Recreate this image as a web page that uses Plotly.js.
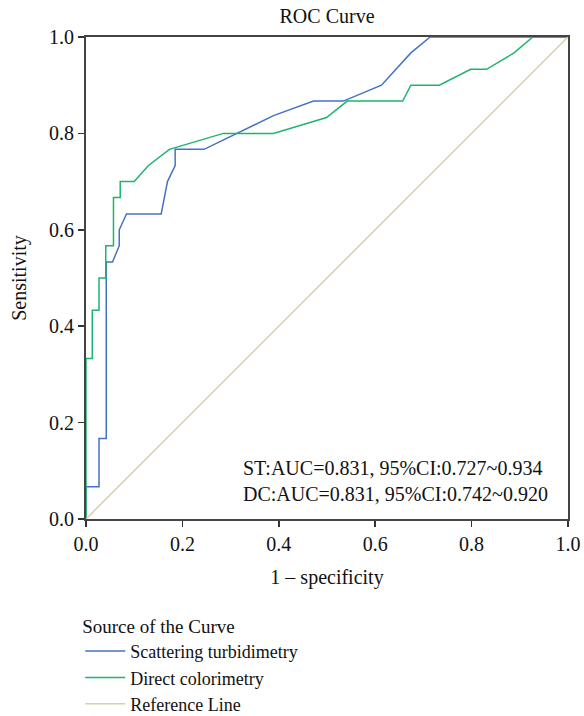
<!DOCTYPE html>
<html>
<head>
<meta charset="utf-8">
<script src="https://cdn.plot.ly/plotly-3.0.1.min.js"></script>
<style>html,body{margin:0;padding:0;background:#fff;}#chart{width:584px;height:716px;}</style>
</head>
<body>
<div id="chart"></div>
<script>
// Scattering turbidimetry (ST)
const stFpr  = [0, 0,     0.027, 0.027, 0.042, 0.042, 0.055, 0.069, 0.069, 0.084, 0.156, 0.169, 0.185, 0.185, 0.245, 0.389, 0.472, 0.534, 0.613, 0.674, 0.714, 1];
const stSens = [0, 0.067, 0.067, 0.167, 0.167, 0.533, 0.533, 0.567, 0.600, 0.633, 0.633, 0.700, 0.733, 0.767, 0.767, 0.837, 0.867, 0.867, 0.900, 0.967, 1.000, 1];
// Direct colorimetry (DC)
const dcFpr  = [0, 0,     0.013, 0.013, 0.027, 0.027, 0.041, 0.041, 0.057, 0.057, 0.071, 0.071, 0.100, 0.129, 0.173, 0.285, 0.389, 0.499, 0.542, 0.657, 0.674, 0.733, 0.798, 0.831, 0.888, 0.927, 1];
const dcSens = [0, 0.333, 0.333, 0.433, 0.433, 0.500, 0.500, 0.567, 0.567, 0.667, 0.667, 0.700, 0.700, 0.733, 0.767, 0.800, 0.800, 0.833, 0.867, 0.867, 0.900, 0.900, 0.933, 0.933, 0.967, 1.000, 1];
// Reference line
const refX = [0, 1];
const refY = [0, 1];

const seriesNames = ["Scattering turbidimetry", "Direct colorimetry", "Reference Line"];
const tickVals = [0, 0.2, 0.4, 0.6, 0.8, 1.0];
const tickText = ["0.0", "0.2", "0.4", "0.6", "0.8", "1.0"];
const aucLines = ["ST:AUC=0.831, 95%CI:0.727~0.934", "DC:AUC=0.831, 95%CI:0.742~0.920"];

const FONT = "Liberation Serif, Times New Roman, serif";

const traces = [
  {x: stFpr, y: stSens, mode: "lines", name: seriesNames[0], line: {color: "#4472c4", width: 1.5}},
  {x: dcFpr, y: dcSens, mode: "lines", name: seriesNames[1], line: {color: "#1fb46e", width: 1.5}},
  {x: refX, y: refY, mode: "lines", name: seriesNames[2], line: {color: "#d8cfac", width: 1.5}}
];

const axisCommon = {
  range: [0, 1],
  tickvals: tickVals,
  ticktext: tickText,
  ticks: "outside",
  ticklen: 6,
  tickwidth: 1.5,
  tickcolor: "#333",
  showline: true,
  mirror: true,
  linecolor: "#444",
  linewidth: 2,
  showgrid: false,
  zeroline: false,
  fixedrange: true,
  tickfont: {family: FONT, size: 20, color: "#111"}
};

const layout = {
  width: 584,
  height: 716,
  margin: {l: 86, r: 16, t: 37, b: 197, autoexpand: false},
  paper_bgcolor: "#fff",
  plot_bgcolor: "#fff",
  font: {family: FONT, color: "#111"},
  title: {text: "ROC Curve", font: {family: FONT, size: 20, color: "#111"}, x: 0.56, xanchor: "center", y: 0.977, yanchor: "middle"},
  xaxis: Object.assign({}, axisCommon, {
    title: {text: "1 – specificity", font: {family: FONT, size: 20, color: "#111"}, standoff: 16}
  }),
  yaxis: Object.assign({}, axisCommon, {
    title: {text: "Sensitivity", font: {family: FONT, size: 20, color: "#111"}, standoff: 17}
  }),
  showlegend: true,
  legend: {
    title: {text: "Source of the Curve", font: {family: FONT, size: 19, color: "#111"}, side: "top"},
    font: {family: FONT, size: 18, color: "#111"},
    orientation: "v",
    x: -0.012, xanchor: "left",
    y: -0.185, yanchor: "top",
    bgcolor: "rgba(0,0,0,0)",
    tracegroupgap: 0,
    itemwidth: 40
  },
  annotations: [
    {xref: "paper", yref: "paper", x: 0.322, y: 0.078, xanchor: "left", yanchor: "middle", align: "left",
     text: aucLines[0] + "<br>" + aucLines[1], showarrow: false,
     font: {family: FONT, size: 20, color: "#111"}}
  ]
};

Plotly.newPlot("chart", traces, layout, {displayModeBar: false, staticPlot: true});
</script>
</body>
</html>
